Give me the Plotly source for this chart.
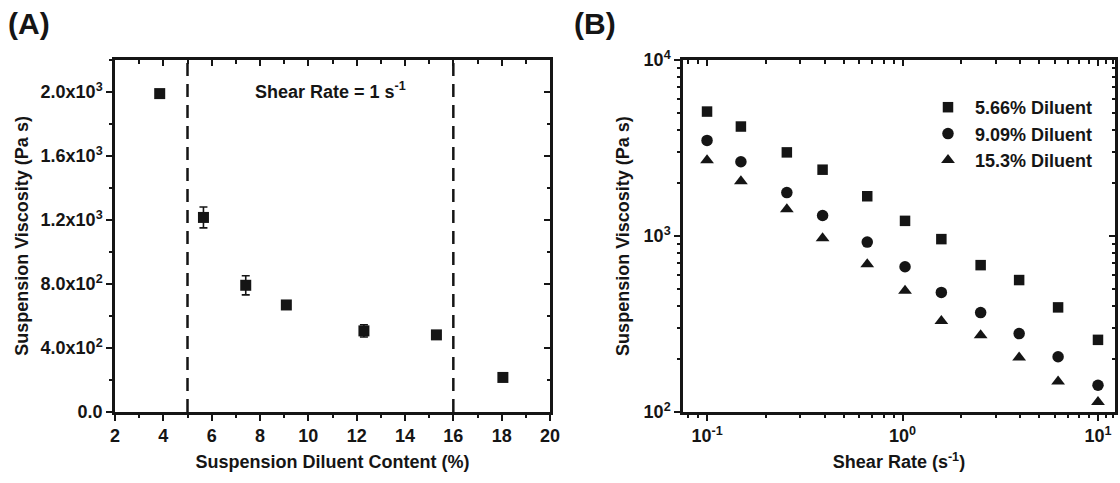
import plotly.graph_objects as go

# ---------------- Data ----------------
# Panel A: viscosity vs diluent content at shear rate 1 s^-1
diluent_content = [3.85, 5.66, 7.41, 9.09, 12.3, 15.3, 18.05]
viscosity_A = [1990, 1216, 792, 669, 507, 482, 216]
viscosity_A_err = [12, 65, 60, 15, 38, 12, 10]
boundary_lines = [5, 16]

# Panel B: viscosity vs shear rate
shear_rate = [0.1, 0.149, 0.256, 0.39, 0.66, 1.03, 1.58, 2.51, 3.95, 6.25, 10.0]
visc_566 = [5093, 4188, 2986, 2381, 1682, 1219, 960, 683, 562, 393, 257]
visc_909 = [3491, 2643, 1764, 1307, 923, 669, 478, 367, 279, 206, 142]
visc_153 = [2690, 2046, 1419, 972, 692, 489, 329, 273, 204, 149, 114]
series_names = ["5.66% Diluent", "9.09% Diluent", "15.3% Diluent"]

# Tick definitions
a_xticks = [2, 4, 6, 8, 10, 12, 14, 16, 18, 20]
a_xminor = [3, 5, 7, 9, 11, 13, 15, 17, 19]
a_yticks = [0, 400, 800, 1200, 1600, 2000]
a_yticktext = ["0.0", "4.0x10<sup>2</sup>", "8.0x10<sup>2</sup>", "1.2x10<sup>3</sup>",
               "1.6x10<sup>3</sup>", "2.0x10<sup>3</sup>"]
a_yminor = [200, 600, 1000, 1400, 1800, 2200]

b_xticks = [0.1, 1, 10]
b_xticktext = ["10<sup>-1</sup>", "10<sup>0</sup>", "10<sup>1</sup>"]
b_xminor = [0.08, 0.09] + [m * 0.1 for m in range(2, 10)] + list(range(2, 10)) + [11, 12]
b_yticks = [100, 1000, 10000]
b_yticktext = ["10<sup>2</sup>", "10<sup>3</sup>", "10<sup>4</sup>"]
b_yminor = [m * 100 for m in range(2, 10)] + [m * 1000 for m in range(2, 10)]

FONT = "Liberation Sans"
INK = "#151515"
FS = 18
tickfont = dict(family=FONT, size=FS, color=INK, weight="bold")
titlefont = dict(family=FONT, size=FS, color=INK, weight="bold")

A_X = [115 / 1120, 550 / 1120]
B_X = [683 / 1120, 1115 / 1120]
DOM_Y = [71 / 483, 423 / 483]

fig = go.Figure()

# Panel A
fig.add_trace(go.Scatter(
    x=diluent_content, y=viscosity_A, mode="markers",
    marker=dict(symbol="square", size=11, color=INK),
    error_y=dict(type="data", array=viscosity_A_err, color=INK, thickness=1.6, width=4),
    xaxis="x", yaxis="y", showlegend=False, hoverinfo="x+y"))

# Panel B
symbols = ["square", "circle", "triangle-up"]
sizes = [10.5, 11.5, 12]
for name, vals, sym, sz in zip(series_names, [visc_566, visc_909, visc_153], symbols, sizes):
    fig.add_trace(go.Scatter(
        x=shear_rate, y=vals, mode="markers", name=name,
        marker=dict(symbol=sym, size=sz, color=INK),
        xaxis="x2", yaxis="y2", showlegend=True))

# invisible helper traces for mirrored inward tick axes
fig.add_trace(go.Scatter(x=[None], y=[None], xaxis="x3", yaxis="y3", showlegend=False, hoverinfo="skip"))
fig.add_trace(go.Scatter(x=[None], y=[None], xaxis="x4", yaxis="y4", showlegend=False, hoverinfo="skip"))

common_line = dict(showline=True, linewidth=2.5, linecolor=INK, mirror=True, showgrid=False,
                   zeroline=False, ticklen=6, tickwidth=2, tickcolor=INK)

fig.update_layout(
    width=1120, height=483,
    margin=dict(l=0, r=0, t=0, b=0),
    paper_bgcolor="white", plot_bgcolor="white",
    xaxis=dict(domain=A_X, range=[2, 20], anchor="y", side="bottom",
               tickmode="array", tickvals=a_xticks, ticks="outside", tickfont=tickfont,
               minor=dict(tickvals=a_xminor, ticks="outside", ticklen=3.5, tickwidth=2, tickcolor=INK),
               title=dict(text="Suspension Diluent Content (%)", font=titlefont, standoff=11),
               automargin=False, **common_line),
    yaxis=dict(domain=DOM_Y, range=[0, 2200], anchor="x", side="left",
               tickmode="array", tickvals=a_yticks, ticktext=a_yticktext, ticks="outside",
               tickfont=tickfont,
               minor=dict(tickvals=a_yminor, ticks="outside", ticklen=3.5, tickwidth=2, tickcolor=INK),
               title=dict(text="Suspension Viscosity (Pa s)", font=titlefont, standoff=8),
               automargin=False, **common_line),
    xaxis3=dict(overlaying="x", anchor="y3", side="top", range=[2, 20],
                tickmode="array", tickvals=a_xticks, ticks="inside", showticklabels=False,
                minor=dict(tickvals=a_xminor, ticks="inside", ticklen=3.5, tickwidth=2, tickcolor=INK),
                showline=False, showgrid=False, zeroline=False, ticklen=6, tickwidth=2, tickcolor=INK),
    yaxis3=dict(overlaying="y", anchor="x3", side="right", range=[0, 2200],
                tickmode="array", tickvals=a_yticks, ticks="inside", showticklabels=False,
                minor=dict(tickvals=a_yminor, ticks="inside", ticklen=3.5, tickwidth=2, tickcolor=INK),
                showline=False, showgrid=False, zeroline=False, ticklen=6, tickwidth=2, tickcolor=INK),
    xaxis2=dict(domain=B_X, type="log", range=[-1.123, 1.087], anchor="y2", side="bottom",
                tickmode="array", tickvals=b_xticks, ticktext=b_xticktext, ticks="outside",
                tickfont=tickfont,
                minor=dict(tickvals=b_xminor, ticks="outside", ticklen=3.5, tickwidth=2, tickcolor=INK),
                title=dict(text="Shear Rate (s<sup>-1</sup>)", font=titlefont, standoff=11),
                automargin=False, **common_line),
    yaxis2=dict(domain=DOM_Y, type="log", range=[2, 4], anchor="x2", side="left",
                tickmode="array", tickvals=b_yticks, ticktext=b_yticktext, ticks="outside",
                tickfont=tickfont,
                minor=dict(tickvals=b_yminor, ticks="outside", ticklen=3.5, tickwidth=2, tickcolor=INK),
                title=dict(text="Suspension Viscosity (Pa s)", font=titlefont, standoff=10),
                automargin=False, **common_line),
    xaxis4=dict(overlaying="x2", anchor="y4", side="top", type="log", range=[-1.123, 1.087],
                tickmode="array", tickvals=b_xticks, ticks="inside", showticklabels=False,
                minor=dict(tickvals=b_xminor, ticks="inside", ticklen=3.5, tickwidth=2, tickcolor=INK),
                showline=False, showgrid=False, zeroline=False, ticklen=6, tickwidth=2, tickcolor=INK),
    yaxis4=dict(overlaying="y2", anchor="x4", side="right", type="log", range=[2, 4],
                tickmode="array", tickvals=b_yticks, ticks="inside", showticklabels=False,
                minor=dict(tickvals=b_yminor, ticks="inside", ticklen=3.5, tickwidth=2, tickcolor=INK),
                showline=False, showgrid=False, zeroline=False, ticklen=6, tickwidth=2, tickcolor=INK),
    legend=dict(x=921 / 1120, y=1 - 89 / 483, xanchor="left", yanchor="top",
                bgcolor="rgba(0,0,0,0)", font=dict(family=FONT, size=FS, color=INK, weight="bold"),
                itemsizing="trace", itemwidth=44, tracegroupgap=0),
)

for xv in boundary_lines:
    fig.add_shape(type="line", xref="x", yref="y domain", x0=xv, x1=xv, y0=0, y1=1,
                  line=dict(color=INK, width=2.5, dash="13px,8px"))

fig.add_annotation(x=10.9, y=2010, xref="x", yref="y", text="Shear Rate = 1 s<sup>-1</sup>",
                   showarrow=False, font=dict(family=FONT, size=FS, color=INK, weight="bold"))
fig.add_annotation(x=6 / 1120, y=1 - 5 / 483, xref="paper", yref="paper", text="(A)",
                   xanchor="left", yanchor="top", showarrow=False,
                   font=dict(family=FONT, size=30, color=INK, weight="bold"))
fig.add_annotation(x=572 / 1120, y=1 - 5 / 483, xref="paper", yref="paper", text="(B)",
                   xanchor="left", yanchor="top", showarrow=False,
                   font=dict(family=FONT, size=30, color=INK, weight="bold"))

fig.write_html("out.html")
